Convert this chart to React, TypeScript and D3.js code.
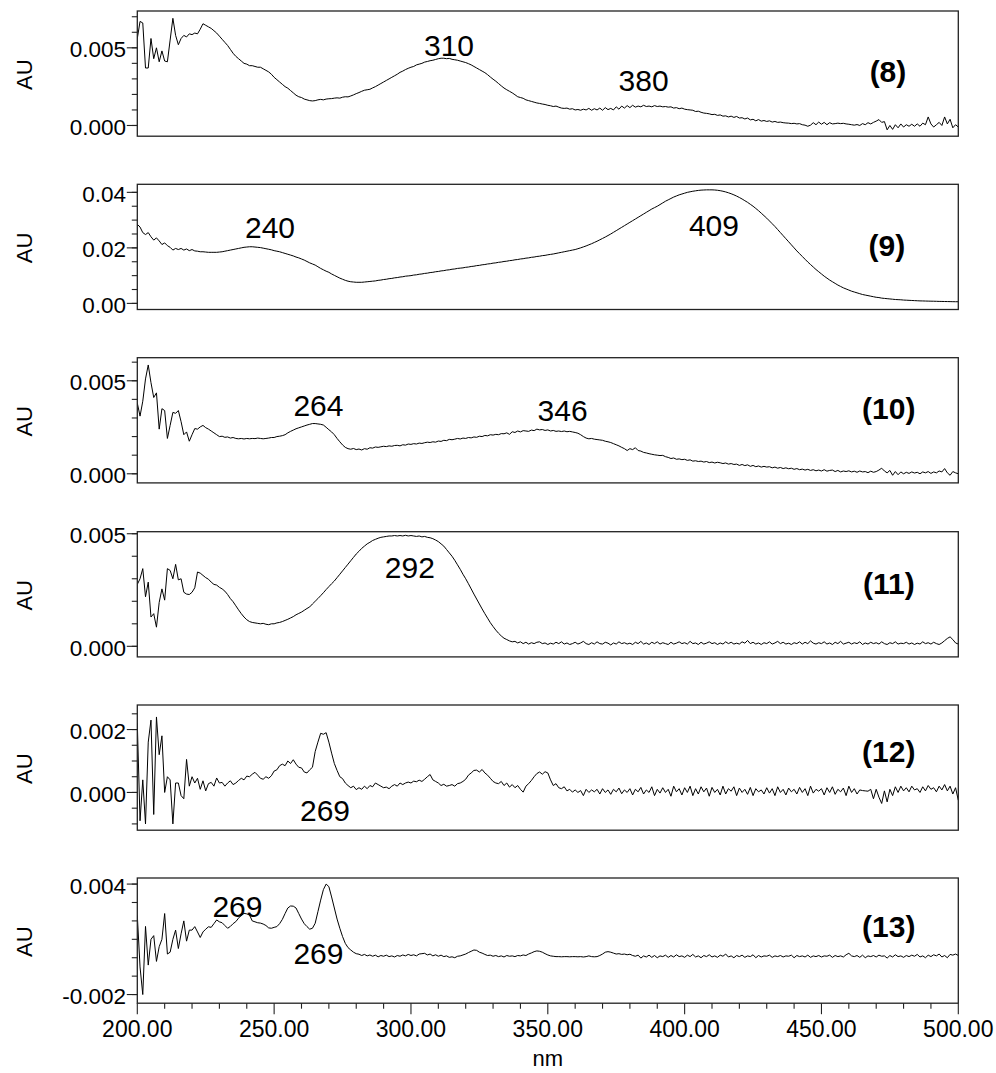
import React from 'react';
import * as d3 from 'd3';

// wavelength grid (nm), 1 nm sampling
const WAVELENGTHS: number[] = d3.range(200, 501, 1);

// absorbance values in mAU (x 0.001 AU), one value per nm from 200 to 500
const S8 = [
  5.6, 6.7, 6.6, 3.7, 3.7, 5.6, 4.3, 5.0, 4.1, 4.8,
  4.15, 4.1, 5.5, 6.9, 5.8, 5.2, 5.6, 5.8, 5.7, 5.9,
  5.85, 5.95, 5.9, 6.2, 6.55, 6.45, 6.35, 6.25, 6.1, 5.95,
  5.75, 5.55, 5.35, 5.15, 4.9, 4.65, 4.45, 4.3, 4.15, 4.0,
  3.95, 3.85, 3.85, 3.8, 3.75, 3.75, 3.65, 3.55, 3.45, 3.3,
  3.1, 2.95, 2.8, 2.65, 2.5, 2.4, 2.25, 2.1, 1.95, 1.85,
  1.8, 1.7, 1.65, 1.6, 1.58, 1.6, 1.65, 1.68, 1.65, 1.7,
  1.72, 1.73, 1.76, 1.78, 1.76, 1.82, 1.85, 1.84, 1.9, 1.97,
  2.05, 2.12, 2.2, 2.27, 2.3, 2.33, 2.42, 2.5, 2.6, 2.7,
  2.8, 2.9, 3.0, 3.1, 3.2, 3.3, 3.42, 3.5, 3.6, 3.68,
  3.75, 3.8, 3.9, 3.95, 4.0, 4.08, 4.12, 4.17, 4.2, 4.25,
  4.3, 4.33, 4.33, 4.3, 4.32, 4.26, 4.23, 4.2, 4.15, 4.1,
  4.05, 3.98, 3.9, 3.8, 3.7, 3.6, 3.5, 3.4, 3.27, 3.12,
  2.98, 2.85, 2.7, 2.55, 2.41, 2.3, 2.2, 2.1, 1.98, 1.85,
  1.8, 1.75, 1.65, 1.6, 1.55, 1.5, 1.45, 1.42, 1.38, 1.35,
  1.3, 1.27, 1.22, 1.25, 1.18, 1.12, 1.1, 1.12, 1.05, 1.08,
  1.0, 1.03, 0.98, 1.05, 1.0, 1.1, 0.98, 1.08, 1.0, 1.12,
  0.98, 1.15, 1.02, 1.1, 1.0, 1.2, 1.05, 1.25, 1.12, 1.28,
  1.15, 1.3, 1.18, 1.25, 1.2, 1.3, 1.22, 1.25, 1.2, 1.28,
  1.22, 1.25, 1.2, 1.22, 1.18, 1.2, 1.12, 1.15, 1.08, 1.12,
  1.05, 1.02, 1.0, 0.98, 0.9, 0.92, 0.85, 0.8, 0.78, 0.75,
  0.7, 0.72, 0.65, 0.68, 0.6, 0.62, 0.55, 0.6, 0.52, 0.58,
  0.48, 0.5, 0.42, 0.48, 0.36, 0.4, 0.3, 0.38, 0.28, 0.32,
  0.26, 0.3, 0.22, 0.26, 0.2, 0.22, 0.18, 0.16, 0.15, 0.12,
  0.14, 0.1, 0.12, 0.05, 0.02, -0.05, 0.02, 0.18, 0.05, 0.22,
  0.08, 0.2, 0.05, 0.18, 0.1, 0.12, 0.15, 0.12, 0.14, 0.1,
  0.08, 0.05, 0.02, 0.06, 0.0, 0.12, 0.05, 0.18, 0.1, 0.2,
  0.28, 0.38, 0.2, 0.25, -0.28, 0.0, -0.25, 0.05, -0.15, 0.1,
  -0.1, 0.05, -0.05, 0.08, -0.05, 0.1, -0.05, 0.15, 0.05, 0.55,
  0.1, -0.1, 0.05, 0.2, 0.0, 0.55, 0.1, 0.4, -0.15, 0.05,
  -0.1,
];

const S9 = [
  28.5, 27.5, 25.5, 24.8, 25.5, 24.0, 22.8, 23.6, 22.5, 21.2,
  21.8, 20.8, 20.2, 19.2, 19.8, 19.4, 19.8, 19.2, 19.6, 19.0,
  19.4, 18.9, 18.8, 18.6, 18.6, 18.5, 18.4, 18.4, 18.4, 18.4,
  18.5, 18.6, 18.8, 19.0, 19.2, 19.4, 19.6, 19.8, 20.0, 20.2,
  20.3, 20.4, 20.4, 20.3, 20.2, 20.1, 19.9, 19.7, 19.5, 19.3,
  19.0, 18.8, 18.6, 18.3, 18.0, 17.7, 17.4, 17.1, 16.7, 16.4,
  16.0, 15.6, 15.1, 14.6, 14.2, 13.8, 13.2, 12.6, 12.1, 11.6,
  11.2, 10.6, 10.1, 9.6, 9.1, 8.7, 8.3, 8.0, 7.8, 7.7,
  7.6, 7.6, 7.6, 7.7, 7.8, 7.9, 8.0, 8.1, 8.3, 8.4,
  8.6, 8.7, 8.9, 9.0, 9.2, 9.3, 9.5, 9.6, 9.8, 9.9,
  10.0, 10.2, 10.3, 10.5, 10.6, 10.8, 10.9, 11.1, 11.2, 11.4,
  11.5, 11.7, 11.8, 12.0, 12.1, 12.3, 12.4, 12.6, 12.7, 12.8,
  13.0, 13.1, 13.3, 13.4, 13.6, 13.7, 13.9, 14.0, 14.2, 14.3,
  14.5, 14.6, 14.8, 14.9, 15.1, 15.2, 15.4, 15.5, 15.7, 15.8,
  16.0, 16.1, 16.3, 16.4, 16.6, 16.7, 16.9, 17.0, 17.2, 17.3,
  17.5, 17.65, 17.8, 18.0, 18.2, 18.4, 18.6, 18.8, 19.0, 19.2,
  19.4, 19.7, 20.0, 20.35, 20.7, 21.1, 21.5, 21.95, 22.4, 22.9,
  23.4, 23.9, 24.45, 25.0, 25.6, 26.2, 26.8, 27.4, 28.0, 28.6,
  29.2, 29.8, 30.4, 31.0, 31.6, 32.2, 32.8, 33.4, 34.0, 34.5,
  35.0, 35.6, 36.2, 36.8, 37.3, 37.8, 38.3, 38.7, 39.1, 39.4,
  39.7, 40.0, 40.2, 40.4, 40.55, 40.7, 40.8, 40.85, 40.9, 40.9,
  40.9, 40.85, 40.75, 40.6, 40.4, 40.15, 39.85, 39.5, 39.1, 38.65,
  38.15, 37.6, 37.0, 36.4, 35.7, 35.0, 34.2, 33.4, 32.5, 31.6,
  30.7, 29.7, 28.7, 27.7, 26.6, 25.5, 24.4, 23.3, 22.2, 21.1,
  20.0, 18.9, 17.9, 16.9, 15.9, 14.9, 14.0, 13.1, 12.2, 11.4,
  10.6, 9.8, 9.1, 8.4, 7.8, 7.2, 6.6, 6.1, 5.6, 5.2,
  4.8, 4.4, 4.1, 3.8, 3.5, 3.2, 3.0, 2.8, 2.6, 2.4,
  2.2, 2.1, 1.9, 1.8, 1.7, 1.6, 1.5, 1.4, 1.35, 1.3,
  1.2, 1.15, 1.1, 1.05, 1.0, 0.95, 0.9, 0.88, 0.85, 0.82,
  0.8, 0.78, 0.75, 0.72, 0.7, 0.68, 0.66, 0.64, 0.62, 0.6,
  0.6,
];

const S10 = [
  3.8, 3.1, 3.9, 5.1, 5.85, 4.9, 4.1, 4.35, 2.4, 3.5,
  3.4, 1.9, 2.6, 3.3, 3.25, 3.4, 2.8, 2.1, 2.25, 1.75,
  2.1, 2.43, 2.4, 2.52, 2.6, 2.48, 2.4, 2.3, 2.2, 2.1,
  2.0, 2.02, 1.96, 1.98, 1.92, 1.95, 1.9, 1.88, 1.9, 1.87,
  1.9, 1.88, 1.9, 1.89, 1.92, 1.9, 1.88, 1.9, 1.92, 1.95,
  1.95, 2.0, 2.02, 2.05, 2.1, 2.2, 2.28, 2.35, 2.42, 2.47,
  2.52, 2.57, 2.62, 2.66, 2.7, 2.7, 2.68, 2.66, 2.62, 2.5,
  2.37, 2.25, 2.1, 1.9, 1.72, 1.55, 1.42, 1.35, 1.32, 1.36,
  1.3, 1.33, 1.28, 1.35, 1.32, 1.4, 1.38, 1.44, 1.42, 1.45,
  1.48, 1.46, 1.5, 1.48, 1.52, 1.53, 1.5, 1.56, 1.54, 1.6,
  1.58, 1.62, 1.6, 1.65, 1.63, 1.67, 1.7, 1.68, 1.72, 1.7,
  1.76, 1.74, 1.8, 1.78, 1.85, 1.83, 1.86, 1.9, 1.87, 1.92,
  1.9, 1.95, 1.93, 1.98, 1.96, 2.02, 2.0, 2.06, 2.04, 2.1,
  2.08, 2.12, 2.1, 2.16, 2.15, 2.2, 2.12, 2.26, 2.22, 2.3,
  2.25, 2.32, 2.3, 2.28, 2.35, 2.32, 2.4, 2.36, 2.38, 2.33,
  2.36, 2.3, 2.33, 2.28, 2.3, 2.27, 2.3, 2.26, 2.28, 2.25,
  2.22, 2.18, 2.1, 2.0, 1.92, 1.88, 1.9, 1.86, 1.84, 1.82,
  1.8, 1.75, 1.72, 1.68, 1.62, 1.56, 1.5, 1.42, 1.35, 1.25,
  1.35, 1.3, 1.4, 1.25, 1.22, 1.15, 1.12, 1.08, 1.05, 1.02,
  1.0, 0.98, 0.99, 0.92, 0.88, 0.82, 0.85, 0.78, 0.8, 0.76,
  0.78, 0.72, 0.75, 0.68, 0.7, 0.66, 0.68, 0.63, 0.66, 0.6,
  0.63, 0.58, 0.62, 0.59, 0.55, 0.58, 0.52, 0.55, 0.5, 0.52,
  0.45, 0.5, 0.44, 0.48, 0.4, 0.45, 0.38, 0.42, 0.36, 0.4,
  0.36, 0.38, 0.32, 0.36, 0.3, 0.34, 0.28, 0.32, 0.27, 0.3,
  0.24, 0.28, 0.22, 0.25, 0.2, 0.24, 0.18, 0.22, 0.16, 0.2,
  0.15, 0.22, 0.14, 0.18, 0.2, 0.12, 0.18, 0.1, 0.15, 0.12,
  0.16, 0.1, 0.14, 0.08, 0.15, 0.1, 0.12, 0.06, 0.14, 0.08,
  0.12, 0.2, 0.3, 0.15, 0.05, 0.18, -0.08, 0.12, -0.05, 0.1,
  0.0, 0.08, 0.02, 0.1, 0.04, 0.08, 0.0, 0.1, 0.05, 0.12,
  0.02, 0.1, 0.05, 0.15, 0.1, 0.28, 0.05, -0.08, 0.12, 0.05,
  0.0,
];

const S11 = [
  2.75, 3.0, 3.45, 2.2, 2.85, 1.3, 1.45, 0.85, 1.95, 2.55,
  2.05, 3.45, 3.37, 3.0, 3.64, 2.95, 3.0, 2.4, 2.32, 2.3,
  2.4, 2.6, 3.3, 3.25, 3.15, 3.05, 2.98, 2.85, 2.75, 2.72,
  2.62, 2.55, 2.45, 2.3, 2.12, 1.98, 1.8, 1.62, 1.45, 1.3,
  1.18, 1.1, 1.06, 1.04, 1.02, 1.0, 1.02, 0.98, 0.96, 1.0,
  1.0, 1.04, 1.06, 1.1, 1.15, 1.2, 1.26, 1.32, 1.4, 1.46,
  1.52, 1.6, 1.68, 1.75, 1.88, 2.0, 2.12, 2.25, 2.38, 2.52,
  2.65, 2.78, 2.9, 3.05, 3.2, 3.35, 3.5, 3.65, 3.8, 3.95,
  4.1, 4.22, 4.35, 4.45, 4.55, 4.62, 4.7, 4.75, 4.8, 4.84,
  4.86, 4.88, 4.9, 4.9, 4.92, 4.9, 4.92, 4.9, 4.93, 4.9,
  4.92, 4.9, 4.88, 4.9, 4.86, 4.88, 4.84, 4.82, 4.78, 4.72,
  4.65, 4.55, 4.45, 4.3, 4.15, 4.0, 3.82, 3.62, 3.42, 3.2,
  3.0, 2.78, 2.55, 2.32, 2.1, 1.88, 1.66, 1.45, 1.25, 1.05,
  0.88, 0.72, 0.58, 0.46, 0.36, 0.3, 0.24, 0.2, 0.22, 0.15,
  0.2, 0.12, 0.18, 0.1, 0.16, 0.12, 0.18, 0.2, 0.12, 0.15,
  0.08, 0.14, 0.1, 0.18, 0.12, 0.2, 0.1, 0.15, 0.08, 0.12,
  0.18, 0.1, 0.15, 0.22, 0.12, 0.08, 0.16, 0.1, 0.2, 0.12,
  0.1, 0.18, 0.14, 0.06, 0.15, 0.1, 0.2, 0.12, 0.16, 0.1,
  0.14, 0.08, 0.18, 0.12, 0.22, 0.1, 0.15, 0.08, 0.18, 0.12,
  0.2, 0.1, 0.16, 0.12, 0.08, 0.18, 0.1, 0.14, 0.2, 0.12,
  0.16, 0.1, 0.22, 0.12, 0.15, 0.08, 0.18, 0.1, 0.14, 0.2,
  0.12, 0.16, 0.08, 0.15, 0.1, 0.2, 0.12, 0.18, 0.1, 0.14,
  0.1, 0.2, 0.14, 0.26, 0.12, 0.18, 0.1, 0.15, 0.08, 0.16,
  0.12, 0.2, 0.1, 0.15, 0.22, 0.12, 0.18, 0.1, 0.14, 0.08,
  0.16, 0.12, 0.2, 0.1, 0.18, 0.12, 0.24, 0.14, 0.1, 0.16,
  0.12, 0.2, 0.1, 0.15, 0.08, 0.18, 0.12, 0.22, 0.1, 0.14,
  0.18, 0.1, 0.16, 0.12, 0.2, 0.08, 0.15, 0.1, 0.18, 0.12,
  0.16, 0.1, 0.2, 0.12, 0.08, 0.16, 0.12, 0.2, 0.1, 0.14,
  0.12, 0.18, 0.1, 0.15, 0.08, 0.14, 0.1, 0.2, 0.12, 0.16,
  0.1, 0.18, 0.12, 0.08, 0.15, 0.25, 0.35, 0.42, 0.3, 0.15,
  0.1,
];

const S12 = [
  2.2, -0.9, 0.4, -1.0, 1.6, 2.3, -0.7, 2.4, 1.2, 1.8,
  0.0, 0.5, 0.4, -1.0, 0.3, 0.3, -0.1, -0.2, 1.05, 0.2,
  0.5, 0.3, 0.45, 0.1, 0.37, 0.05, 0.28, 0.32, 0.2, 0.46,
  0.3, 0.32, 0.2, 0.3, 0.37, 0.25, 0.3, 0.38, 0.45, 0.4,
  0.52, 0.5, 0.58, 0.64, 0.55, 0.45, 0.42, 0.5, 0.45, 0.53,
  0.68, 0.72, 0.85, 0.9, 0.85, 1.0, 0.92, 1.04, 0.9, 0.8,
  0.78, 0.65, 0.62, 0.72, 0.8, 1.3, 1.6, 1.88, 1.85, 1.9,
  1.6, 1.25, 0.92, 0.7, 0.5, 0.44, 0.3, 0.22, 0.15, 0.2,
  0.09, 0.15, 0.1, 0.2, 0.12, 0.22, 0.18, 0.3, 0.25, 0.2,
  0.15, 0.17, 0.12, 0.2, 0.25, 0.2, 0.3, 0.25, 0.3, 0.33,
  0.3, 0.36, 0.34, 0.39, 0.35, 0.42, 0.5, 0.57, 0.4, 0.35,
  0.3, 0.22, 0.26, 0.2, 0.22, 0.25, 0.2, 0.28, 0.3, 0.35,
  0.42, 0.55, 0.62, 0.7, 0.71, 0.65, 0.73, 0.62, 0.55, 0.45,
  0.35, 0.3, 0.28, 0.35, 0.22, 0.3, 0.17, 0.25, 0.15, 0.22,
  0.1, 0.01, 0.2, 0.28, 0.38, 0.5, 0.6, 0.65, 0.58, 0.66,
  0.62, 0.4, 0.22, 0.28, 0.15, 0.12, 0.18, 0.05, 0.1, 0.01,
  0.08, 0.0, 0.06, -0.1, 0.1, 0.0, 0.08, 0.02, 0.1, -0.05,
  0.12, 0.0, 0.08, -0.06, 0.1, 0.02, 0.14, -0.04, 0.08, 0.0,
  0.12, -0.08, 0.1, 0.02, 0.16, -0.05, 0.08, 0.0, 0.18, -0.1,
  0.1, -0.02, 0.15, 0.0, 0.1, -0.12, 0.2, 0.02, 0.12, -0.08,
  0.15, 0.0, 0.2, -0.1, 0.12, -0.05, 0.18, 0.02, 0.14, -0.12,
  0.16, 0.0, 0.1, -0.08, 0.2, -0.05, 0.12, 0.04, 0.18, -0.1,
  0.14, 0.0, 0.1, -0.06, 0.16, -0.1, 0.12, 0.02, 0.08, -0.05,
  0.15, -0.02, 0.12, -0.1, 0.18, 0.0, 0.1, -0.08, 0.14, 0.02,
  0.1, -0.05, 0.16, 0.0, 0.12, -0.1, 0.2, -0.02, 0.1, 0.04,
  0.12, -0.08, 0.15, 0.0, 0.18, -0.06, 0.1, 0.02, 0.14, -0.1,
  0.2, 0.0, 0.12, -0.05, 0.08, 0.06, 0.05, 0.04, 0.1, -0.2,
  0.1, -0.15, -0.35, 0.05, -0.3, 0.1, -0.1, 0.18, 0.0, 0.2,
  0.05, 0.15, 0.02, 0.2, 0.08, 0.12, 0.0, 0.18, 0.05, 0.22,
  0.1, 0.15, 0.02, 0.2, 0.08, 0.25, 0.05, 0.2, -0.05, 0.15,
  -0.25,
];

const S13 = [
  2.3, -0.5, -2.0, 1.7, -0.4, 1.0, 1.2, -0.2, 0.6, 1.0,
  2.4, 0.2, 0.3, 1.0, 1.5, 0.5, 1.3, 2.0, 0.9, 1.5,
  1.5, 1.69, 1.4, 1.1, 1.4, 1.55, 1.68, 1.65, 1.85, 2.05,
  1.95, 1.9, 1.75, 1.6, 1.7, 1.85, 1.96, 2.15, 2.3, 2.41,
  2.38, 2.32, 2.0, 1.95, 1.9, 1.88, 1.83, 1.75, 1.62, 1.6,
  1.65, 1.69, 1.85, 2.08, 2.4, 2.7, 2.81, 2.8, 2.7, 2.4,
  2.1, 1.85, 1.69, 1.55, 1.6, 1.87, 2.5, 3.13, 3.7, 4.0,
  3.86, 3.3, 2.7, 2.1, 1.6, 1.15, 0.78, 0.55, 0.42, 0.3,
  0.22, 0.19, 0.12, 0.18, 0.1, 0.15, 0.08, 0.14, 0.05, 0.12,
  0.08, 0.14, 0.06, 0.1, 0.04, 0.12, 0.08, 0.15, 0.1, 0.18,
  0.12, 0.16, 0.1, 0.2, 0.22, 0.24, 0.15, 0.2, 0.1, 0.16,
  0.08, 0.14, 0.06, 0.1, 0.02, 0.05, 0.0, 0.08, 0.1, 0.15,
  0.2, 0.28, 0.35, 0.42, 0.4, 0.3, 0.25, 0.18, 0.12, 0.14,
  0.08, 0.12, 0.06, 0.1, 0.04, 0.12, 0.08, 0.1, 0.06, 0.12,
  0.1, 0.15, 0.12, 0.2, 0.26, 0.33, 0.37, 0.35, 0.3, 0.22,
  0.15, 0.1, 0.08, 0.06, 0.06, 0.05, 0.06, 0.06, 0.05, 0.06,
  0.06, 0.05, 0.06, 0.04, 0.06, 0.1, 0.06, 0.05, 0.06, 0.12,
  0.2, 0.3, 0.33, 0.3, 0.25, 0.2, 0.22, 0.18, 0.2, 0.16,
  0.19, 0.12, 0.08, 0.14, -0.02, 0.1, 0.04, 0.14, 0.02, 0.12,
  0.0, 0.1, 0.06, 0.14, 0.02, 0.12, 0.04, 0.16, 0.06, 0.1,
  0.02, 0.14, 0.06, 0.18, 0.04, 0.1, 0.0, 0.12, 0.06, 0.16,
  0.04, 0.1, 0.02, 0.14, 0.08, 0.2, 0.04, 0.1, 0.0, 0.12,
  0.06, 0.14, 0.02, 0.1, 0.06, 0.16, 0.0, 0.12, 0.04, 0.1,
  0.08, 0.14, 0.02, 0.1, 0.06, 0.12, 0.04, 0.1, 0.08, 0.14,
  0.0, 0.12, 0.06, 0.1, 0.04, 0.14, 0.02, 0.1, 0.06, 0.12,
  0.04, 0.1, 0.08, 0.14, 0.02, 0.12, 0.06, 0.1, 0.04, 0.16,
  0.24, 0.1, 0.06, 0.12, 0.02, 0.14, 0.0, 0.1, 0.06, 0.12,
  0.04, 0.14, 0.08, 0.1, -0.02, 0.12, 0.04, 0.16, 0.06, 0.1,
  0.02, 0.12, 0.06, 0.14, 0.08, 0.18, 0.04, 0.1, 0.0, 0.14,
  0.06, 0.16, 0.1, 0.2, 0.04, 0.12, 0.0, 0.18, 0.14, 0.2,
  0.12,
];

const SERIES = [S8, S9, S10, S11, S12, S13];
const MAU = 0.001;

const PANEL_TAGS = ['(8)', '(9)', '(10)', '(11)', '(12)', '(13)'];
const Y_DOMAINS: [number, number][] = [
  [-0.00069, 0.00737],
  [-0.0022, 0.0429],
  [-0.00049, 0.00624],
  [-0.00047, 0.00509],
  [-0.0012, 0.00278],
  [-0.00247, 0.00433],
];
const Y_LABELED_TICKS = [
  [0, 0.005],
  [0, 0.02, 0.04],
  [0, 0.005],
  [0, 0.005],
  [0, 0.002],
  [-0.002, 0.004],
];
const Y_MINOR_STEPS = [0.001, 0.005, 0.001, 0.001, 0.0005, 0.001];
const Y_DECIMALS = [3, 2, 3, 3, 3, 3];

// peak annotations: text, wavelength (nm) and absorbance (mAU) of label baseline centre
const PEAK_TEXTS = [['310', '380'], ['240', '409'], ['264', '346'], ['292'], ['269'], ['269', '269']];
const PEAK_NM = [[313.9, 385.0], [248.5, 410.7], [266.2, 355.4], [299.6], [268.6], [236.6, 266.2]];
const PEAK_MAU = [[4.45, 2.23], [23.4, 24.3], [3.09, 2.84], [3.02], [-0.92], [2.23, -0.35]];
const TAG_NM = [474.3, 473.9, 474.6, 474.6, 474.6, 474.6];
const TAG_MAU = [2.79, 17.0, 2.93, 2.34, 0.98, 1.15];

const X_DOMAIN: [number, number] = [200, 500];
const X_MAJOR_TICKS = [200, 250, 300, 350, 400, 450, 500];
const X_TICK_LABELS = ['200.00', '250.00', '300.00', '350.00', '400.00', '450.00', '500.00'];
const X_MINOR_STEP = 10;

// layout
const W = 996;
const H = 1073;
const PLOT_LEFT = 137.3;
const PLOT_RIGHT = 958.3;
const PANEL_TOPS = [11, 184.3, 357.7, 531.7, 705, 878];
const PANEL_H = 125.2;
const FONT = 'Liberation Sans, Arial, Helvetica, sans-serif';
const AXIS_COLOR = '#222';

function Panel({ i, x }: { i: number; x: d3.ScaleLinear<number, number> }) {
  const top = PANEL_TOPS[i];
  const bottom = top + PANEL_H;
  const [lo, hi] = Y_DOMAINS[i];
  const y = d3.scaleLinear().domain([lo, hi]).range([bottom, top]);
  const data = SERIES[i];
  const line = d3
    .line<number>()
    .x((_, j) => x(WAVELENGTHS[j]))
    .y((d) => y(d * MAU));
  const step = Y_MINOR_STEPS[i];
  const minor = d3
    .range(Math.ceil(lo / step - 1e-6), Math.floor(hi / step + 1e-6) + 1)
    .map((k) => k * step);
  const labeled = Y_LABELED_TICKS[i];
  const clipId = `clip-${i}`;
  return (
    <g>
      <defs>
        <clipPath id={clipId}>
          <rect x={PLOT_LEFT} y={top} width={PLOT_RIGHT - PLOT_LEFT} height={PANEL_H} />
        </clipPath>
      </defs>
      <path
        d={line(data) || ''}
        fill="none"
        stroke="#000"
        strokeWidth={1}
        strokeLinejoin="round"
        clipPath={`url(#${clipId})`}
      />
      <rect
        x={PLOT_LEFT}
        y={top}
        width={PLOT_RIGHT - PLOT_LEFT}
        height={PANEL_H}
        fill="none"
        stroke={AXIS_COLOR}
        strokeWidth={1.3}
      />
      {minor.map((v, k) => (
        <line key={`m${k}`} x1={PLOT_LEFT - 5.5} x2={PLOT_LEFT} y1={y(v)} y2={y(v)} stroke={AXIS_COLOR} strokeWidth={1.1} />
      ))}
      {labeled.map((v, k) => (
        <g key={`t${k}`}>
          <line x1={PLOT_LEFT - 10.5} x2={PLOT_LEFT} y1={y(v)} y2={y(v)} stroke={AXIS_COLOR} strokeWidth={1.1} />
          <text x={126} y={y(v) + 9.5} textAnchor="end" fontSize={22.5} fill="#000">
            {v.toFixed(Y_DECIMALS[i])}
          </text>
        </g>
      ))}
      <text
        transform={`translate(31.5,${(top + bottom) / 2 + 1}) rotate(-90)`}
        textAnchor="middle"
        fontSize={22}
        fill="#000"
      >
        AU
      </text>
      {PEAK_TEXTS[i].map((t, k) => (
        <text key={`p${k}`} x={x(PEAK_NM[i][k])} y={y(PEAK_MAU[i][k] * MAU)} textAnchor="middle" fontSize={30} fill="#000">
          {t}
        </text>
      ))}
      <text x={x(TAG_NM[i])} y={y(TAG_MAU[i] * MAU)} textAnchor="middle" fontSize={30} fontWeight="bold" fill="#000">
        {PANEL_TAGS[i]}
      </text>
    </g>
  );
}

export default function App() {
  const x = d3.scaleLinear().domain(X_DOMAIN).range([PLOT_LEFT, PLOT_RIGHT]);
  const lastBottom = PANEL_TOPS[PANEL_TOPS.length - 1] + PANEL_H;
  const xMinor = d3.range(X_DOMAIN[0], X_DOMAIN[1] + 1, X_MINOR_STEP).filter((v) => !X_MAJOR_TICKS.includes(v));
  return (
    <div style={{ position: 'absolute', left: 0, top: 0 }}>
      <svg width={W} height={H} style={{ display: 'block', background: '#fff' }} fontFamily={FONT}>
        <rect x={0} y={0} width={W} height={H} fill="#fff" />
        {SERIES.map((_, i) => (
          <Panel key={i} i={i} x={x} />
        ))}
        {xMinor.map((v) => (
          <line key={`xm${v}`} x1={x(v)} x2={x(v)} y1={lastBottom} y2={lastBottom + 5.5} stroke={AXIS_COLOR} strokeWidth={1.1} />
        ))}
        {X_MAJOR_TICKS.map((v, k) => (
          <g key={`xt${v}`}>
            <line x1={x(v)} x2={x(v)} y1={lastBottom} y2={lastBottom + 11} stroke={AXIS_COLOR} strokeWidth={1.1} />
            <text x={x(v)} y={lastBottom + 33.4} textAnchor="middle" fontSize={23} fill="#000">
              {X_TICK_LABELS[k]}
            </text>
          </g>
        ))}
        <text x={(PLOT_LEFT + PLOT_RIGHT) / 2} y={1066} textAnchor="middle" fontSize={22} fill="#000">
          nm
        </text>
      </svg>
    </div>
  );
}
